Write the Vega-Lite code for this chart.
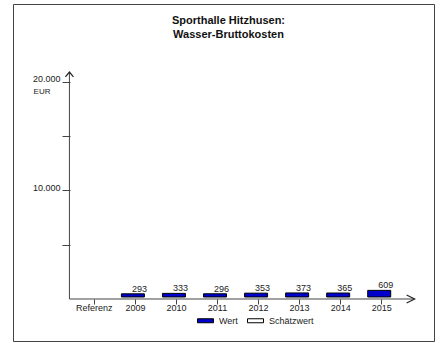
{
  "$schema": "https://vega.github.io/schema/vega-lite/v6.json",
  "width": 421,
  "height": 337,
  "autosize": "none",
  "padding": {"left": 13, "top": 4, "right": 6, "bottom": 2},
  "background": "white",
  "config": {
    "font": "Liberation Sans",
    "view": {"stroke": "#444", "strokeWidth": 1},
    "axis": {"grid": false, "labelColor": "#222", "tickColor": "#444", "labelFontSize": 9}
  },
  "title": {
    "text": ["Sporthalle Hitzhusen:", "Wasser-Bruttokosten"],
    "fontSize": 11,
    "fontWeight": "bold",
    "lineHeight": 14,
    "color": "#111",
    "anchor": "middle",
    "baseline": "top",
    "offset": -11,
    "dy": 25,
    "dx": 5
  },
  "layer": [
    {
      "data": {"values": [
        {"Jahr": "2009", "Pos": 1, "Wert": 293, "Art": "Wert"},
        {"Jahr": "2010", "Pos": 2, "Wert": 333, "Art": "Wert"},
        {"Jahr": "2011", "Pos": 3, "Wert": 296, "Art": "Wert"},
        {"Jahr": "2012", "Pos": 4, "Wert": 353, "Art": "Wert"},
        {"Jahr": "2013", "Pos": 5, "Wert": 373, "Art": "Wert"},
        {"Jahr": "2014", "Pos": 6, "Wert": 365, "Art": "Wert"},
        {"Jahr": "2015", "Pos": 7, "Wert": 609, "Art": "Wert"}
      ]},
      "layer": [
        {
          "mark": {"type": "bar", "orient": "vertical", "width": 23, "stroke": "#000", "strokeWidth": 1, "xOffset": -2, "yOffset": -2, "y2Offset": -2},
          "encoding": {
            "x": {
              "field": "Pos", "type": "quantitative",
              "scale": {"domain": [-1.848, 8.164], "nice": false, "zero": false},
              "axis": {
                "title": null, "domain": false, "values": [0, 1, 2, 3, 4, 5, 6, 7],
                "labelExpr": "['Referenz','2009','2010','2011','2012','2013','2014','2015'][datum.value]",
                "tickSize": 5, "labelPadding": -1, "labelBaseline": "top", "offset": -42, "labelFlush": false, "labelOverlap": false
              }
            },
            "y": {
              "field": "Wert", "type": "quantitative",
              "scale": {"domain": [-3866, 27151], "nice": false, "zero": false},
              "axis": {
                "title": "EUR", "titleAngle": 0, "titleX": -28.5, "titleY": 89, "titleAlign": "center", "titleBaseline": "alphabetic",
                "titleFontSize": 8, "titleFontWeight": "normal", "titleColor": "#222",
                "domain": false, "values": [5000, 10000, 15000, 20000],
                "labelExpr": "datum.value % 10000 == 0 ? replace(format(datum.value, ','), ',', '.') : ''",
                "tickSize": 8, "labelPadding": 2, "labelBaseline": "alphabetic", "offset": -57, "labelFlush": false, "labelOverlap": false
              }
            },
            "color": {
              "field": "Art", "type": "nominal",
              "scale": {"domain": ["Wert", "Schätzwert"], "range": ["#0000cc", "#ffffff"]},
              "legend": {
                "title": null, "orient": "none", "legendX": 184, "legendY": 308, "direction": "horizontal",
                "symbolType": "M-1,-0.25H1V0.25H-1Z", "symbolSize": 256, "symbolStrokeColor": "#000", "symbolStrokeWidth": 1,
                "labelFontSize": 9, "labelOffset": 5, "columnPadding": 7, "padding": 0, "labelColor": "#222"
              }
            }
          }
        },
        {
          "mark": {"type": "text", "fontSize": 9, "dx": 4.5, "dy": -4, "baseline": "alphabetic", "color": "#222"},
          "encoding": {
            "x": {"field": "Pos", "type": "quantitative"},
            "y": {"field": "Wert", "type": "quantitative"},
            "text": {"field": "Wert", "type": "quantitative", "format": "d"}
          }
        }
      ]
    },
    {
      "data": {"values": [{}]},
      "layer": [
        {
          "mark": {"type": "rule", "color": "#444", "strokeWidth": 1},
          "encoding": {
            "x": {"datum": -0.595, "type": "quantitative"},
            "y": {"datum": 0, "type": "quantitative"},
            "y2": {"datum": 20893}
          }
        },
        {
          "mark": {"type": "rule", "color": "#444", "strokeWidth": 1},
          "encoding": {
            "x": {"datum": -0.595, "type": "quantitative"},
            "x2": {"datum": 7.814},
            "y": {"datum": 0, "type": "quantitative"}
          }
        },
        {
          "mark": {"type": "point", "shape": "M-0.5,0.6L0,0L0.5,0.6", "size": 256, "filled": false, "stroke": "#222", "strokeWidth": 1.2, "opacity": 1},
          "encoding": {
            "x": {"datum": -0.595, "type": "quantitative"},
            "y": {"datum": 20893, "type": "quantitative"}
          }
        },
        {
          "mark": {"type": "point", "shape": "M-1,-0.5L0,0L-1,0.5", "size": 256, "filled": false, "stroke": "#222", "strokeWidth": 1.2, "opacity": 1},
          "encoding": {
            "x": {"datum": 7.814, "type": "quantitative"},
            "y": {"datum": 0, "type": "quantitative"}
          }
        }
      ]
    }
  ]
}
